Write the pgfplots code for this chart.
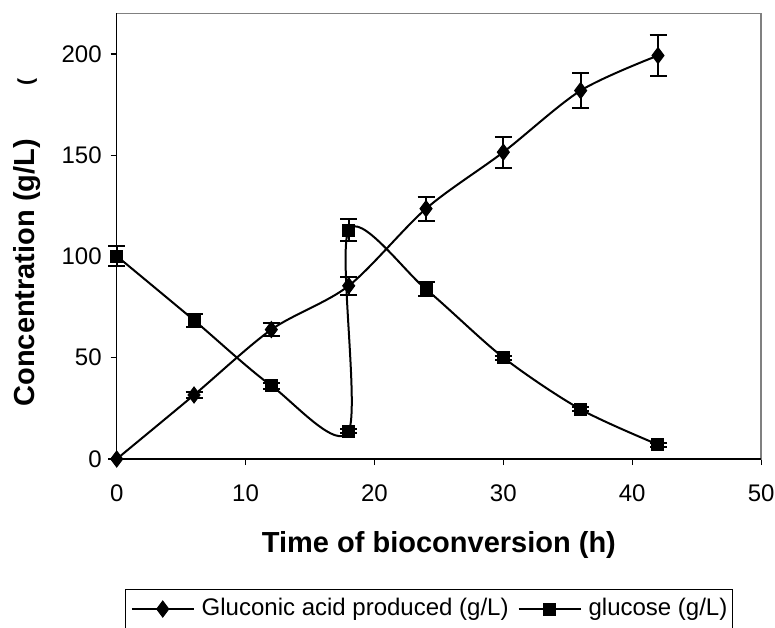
\documentclass[border=0pt]{standalone}
\usepackage{fontspec}
\setmainfont{Liberation Sans}
\usepackage{pgfplots}
\pgfplotsset{compat=1.18}
\begin{document}
\begin{tikzpicture}
\useasboundingbox (-58.35pt,-84pt) rectangle (329.15pt,229.5pt);
\begin{axis}[
  at={(0pt,0pt)}, anchor=south west,
  scale only axis, width=322.2pt, height=222.8pt,
  xmin=0, xmax=50, ymin=0, ymax=220,
  xtick={0,10,...,50}, ytick={0,50,...,200},
  tick align=outside, xtick pos=bottom, ytick pos=left,
  major tick length=3pt,
  tick style={black, line width=0.6pt},
  axis line style={gray, line width=0.7pt},
  tick label style={font=\fontsize{12}{14}\selectfont},
  xticklabel style={yshift=-6.5pt},
  yticklabel style={xshift=-1pt},
  /pgf/number format/assume math mode=true,
  xlabel={Time of bioconversion (h)},
  ylabel={Concentration (g/L)},
  label style={font=\fontsize{14.5}{17}\selectfont\bfseries},
  xlabel style={at={(rel axis cs:0.5,-0.193)}, anchor=center},
  ylabel style={at={(rel axis cs:-0.139,0.418)}, anchor=center},
  legend columns=2,
  legend style={at={(rel axis cs:0.4847,-0.291)}, anchor=north, draw=black, line width=0.6pt,
    font=\fontsize{12}{14}\selectfont, inner xsep=2.5pt, inner ysep=4.3pt,
    nodes={inner sep=0pt, text depth=8pt},
    /tikz/every odd column/.append style={column sep=3.5pt},
    /tikz/every even column/.append style={column sep=4.5pt}},
  legend image code/.code={\draw[mark repeat=2,mark phase=2] plot coordinates {(0pt,2.75pt) (15.5pt,2.75pt) (31pt,2.75pt)};},
  clip=false,
]
\draw[black, line width=0.7pt] (rel axis cs:0,1) -- (rel axis cs:0,0) -- (rel axis cs:1,0);
\node[rotate=90, font=\fontsize{10.5}{12}\selectfont\bfseries] at (rel axis cs:-0.139,0.845) {(};

\addplot[black, line width=1pt, smooth, mark=diamond*, mark size=4pt,
  mark options={solid, fill=black, line width=0.5pt},
  error bars/.cd, y dir=both, y explicit, error mark=|,
  error mark options={black, mark size=4.25pt, line width=1pt},
  error bar style={black, line width=1pt}]
coordinates {
(0,0) +- (0,0)
(6,31.6) +- (0,1.5)
(12,63.9) +- (0,3.3)
(18,85.5) +- (0,4.5)
(24,123.6) +- (0,6)
(30,151.5) +- (0,7.7)
(36,181.9) +- (0,8.6)
(42,199.2) +- (0,10.3)
};
\addlegendentry{Gluconic acid produced (g/L)}

\addplot[black, line width=1pt, smooth, mark=square*, mark size=3pt,
  mark options={solid, fill=black, line width=0.5pt},
  error bars/.cd, y dir=both, y explicit, error mark=|,
  error mark options={black, mark size=4.25pt, line width=1pt},
  error bar style={black, line width=1pt}]
coordinates {
(0,100.2) +- (0,4.9)
(6,68.5) +- (0,3.3)
(12,36.2) +- (0,1.5)
(18,13.8) +- (0,1)
(18,113) +- (0,5.3)
(24,83.8) +- (0,3.5)
(30,50.1) +- (0,1)
(36,24.5) +- (0,1)
(42,7.1) +- (0,1)
};
\addlegendentry{glucose (g/L)}
\end{axis}
\end{tikzpicture}
\end{document}
